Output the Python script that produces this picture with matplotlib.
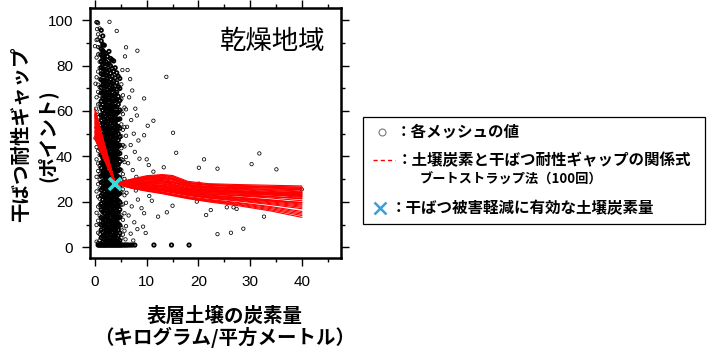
import numpy as np
import matplotlib.pyplot as plt
from matplotlib.patches import Rectangle
from matplotlib.lines import Line2D
from matplotlib.ticker import MultipleLocator

plt.rcParams['font.family'] = ['Liberation Sans', 'Noto Sans CJK JP', 'DejaVu Sans']
JP = ['Noto Sans CJK JP', 'DejaVu Sans']

# dense cloud of mesh values, one column of y per x position
core_x = [0.3, 0.6, 0.9, 1.2, 1.5, 1.8, 2.1, 2.4, 2.7, 3.0,
          3.3, 3.6, 3.9, 4.2, 4.5, 4.8, 5.1, 5.4, 5.7, 6.0]
core_y = [
    [2.5, 9.8, 15.2, 24.6, 31.0, 38.7, 44.1, 52.9, 58.3, 66.0, 74.8, 83.5, 91.2, 99.0],
    [1.9, 6.4, 11.7, 17.9, 22.3, 27.8, 33.6, 36.9, 42.5, 47.1, 53.8, 57.2, 62.9, 68.4,
     71.6, 77.3, 84.9, 88.1, 93.7, 98.6],
    [3.1, 5.8, 10.2, 13.9, 18.6, 21.4, 25.9, 29.7, 32.1, 35.8, 40.6, 43.3, 46.8, 51.5,
     55.0, 59.7, 63.2, 66.8, 70.5, 74.1, 78.9, 81.6, 85.2, 87.9, 92.4, 96.3],
    [1.4, 4.2, 7.7, 9.9, 13.1, 16.5, 19.2, 22.8, 25.3, 28.6, 31.4, 34.9, 37.2, 40.8,
     43.5, 46.2, 49.7, 52.3, 55.8, 58.1, 61.6, 64.3, 67.9, 70.2, 73.7, 76.4, 79.1,
     81.8, 84.6, 87.3, 90.8, 95.5],
    [2.2, 4.9, 6.8, 10.6, 12.4, 15.7, 18.1, 20.9, 23.6, 26.2, 28.1, 31.9, 33.5, 36.7,
     39.4, 41.2, 44.8, 47.3, 49.1, 52.7, 54.4, 57.9, 60.3, 62.8, 65.5, 68.1, 71.4,
     73.2, 75.9, 78.6, 80.4, 82.7, 84.1, 86.6, 89.2, 93.0],
    [1.1, 3.6, 5.4, 8.3, 10.1, 12.9, 15.0, 17.4, 19.8, 22.1, 24.7, 26.9, 29.5, 31.2,
     33.8, 35.9, 38.3, 40.1, 42.9, 45.5, 47.8, 50.2, 52.0, 54.9, 56.3, 59.1, 61.4,
     63.9, 66.2, 68.8, 71.0, 73.5, 76.1, 78.2, 81.0, 83.3, 85.7, 88.9],
    [2.0, 3.9, 6.2, 7.6, 9.5, 11.8, 13.4, 15.9, 17.6, 19.3, 21.7, 23.2, 25.6, 27.4,
     29.1, 31.5, 33.0, 35.3, 37.8, 39.5, 41.6, 43.9, 45.2, 47.6, 49.8, 51.3, 53.7,
     55.5, 57.4, 59.9, 61.8, 64.1, 66.5, 68.2, 70.8, 73.1, 75.6, 78.4, 81.7, 85.3],
    [1.3, 2.8, 5.1, 7.2, 8.9, 11.1, 12.6, 14.7, 16.3, 18.5, 20.4, 22.6, 24.1, 26.5,
     28.3, 30.2, 32.4, 34.1, 36.2, 38.0, 40.3, 42.2, 44.0, 46.4, 48.1, 50.6, 52.4,
     54.2, 56.7, 58.5, 60.9, 62.6, 65.0, 67.3, 69.5, 72.0, 74.4, 77.2, 80.5, 84.0],
    [2.6, 4.4, 6.6, 8.0, 10.3, 12.0, 14.2, 15.6, 17.8, 19.6, 21.2, 23.9, 25.0, 27.1,
     29.8, 31.7, 33.3, 35.6, 37.4, 39.2, 41.0, 43.4, 45.8, 47.0, 49.5, 51.8, 53.1,
     55.3, 57.8, 59.4, 61.2, 63.5, 65.7, 68.0, 70.3, 72.6, 75.1, 77.9, 80.8, 86.2],
    [1.7, 3.3, 5.7, 7.4, 9.2, 11.4, 13.0, 15.3, 16.9, 18.9, 20.7, 22.4, 24.4, 26.6,
     28.5, 30.4, 32.0, 34.4, 36.1, 38.4, 40.5, 42.0, 44.5, 46.6, 48.7, 50.1, 52.2,
     54.6, 56.1, 58.8, 60.6, 62.4, 64.7, 66.9, 69.1, 71.5, 74.0, 76.6, 79.8, 83.1],
    [2.3, 4.0, 6.4, 8.4, 10.0, 12.3, 14.4, 16.0, 18.2, 20.0, 22.0, 23.8, 25.9, 27.9,
     29.6, 31.8, 33.6, 35.4, 37.6, 39.8, 41.4, 43.6, 45.4, 47.5, 49.6, 51.6, 53.4,
     55.9, 57.6, 60.0, 62.1, 64.4, 66.8, 69.4, 72.2, 75.3, 78.7, 82.5],
    [1.5, 3.4, 5.3, 7.8, 9.6, 11.6, 13.6, 15.5, 17.2, 19.4, 21.3, 23.4, 25.4, 27.6,
     29.4, 31.3, 33.4, 35.7, 37.9, 39.9, 41.9, 44.2, 46.0, 48.3, 50.4, 52.6, 54.8,
     57.0, 59.3, 61.7, 64.2, 66.6, 69.8, 73.0, 77.4, 82.0],
    [2.9, 4.7, 6.9, 9.0, 11.2, 13.2, 15.1, 17.3, 19.1, 21.0, 23.1, 25.2, 27.2, 29.3,
     31.1, 33.2, 35.1, 37.3, 39.6, 41.5, 43.7, 45.9, 48.0, 50.3, 52.5, 54.7, 57.3,
     59.6, 62.0, 64.8, 67.6, 70.9, 74.6, 79.0],
    [1.8, 4.1, 6.5, 8.7, 11.0, 13.5, 15.8, 18.0, 20.3, 22.5, 24.9, 27.0, 29.4, 31.6,
     34.0, 36.3, 38.6, 41.1, 43.5, 45.7, 48.2, 50.9, 53.5, 56.0, 58.9, 61.8, 64.9,
     68.3, 72.4, 76.8],
    [2.4, 5.0, 7.6, 10.4, 12.8, 15.4, 18.3, 20.6, 23.3, 26.0, 28.4, 31.0, 33.7, 36.4,
     39.0, 41.8, 44.6, 47.2, 50.0, 53.1, 56.3, 59.5, 62.9, 66.4, 70.6, 75.2],
    [3.0, 6.3, 9.7, 13.3, 16.6, 19.9, 23.7, 27.0, 30.6, 34.2, 37.7, 41.3, 44.9, 48.6,
     52.4, 56.5, 60.4, 64.6, 69.9, 74.3],
    [4.1, 8.8, 14.0, 18.7, 24.2, 29.0, 33.9, 38.8, 43.6, 48.9, 54.1, 59.8, 65.3, 71.7],
    [5.6, 12.1, 18.9, 25.5, 32.2, 38.4, 45.0, 51.7, 58.6, 66.9],
    [7.3, 15.0, 22.9, 30.1, 37.5, 44.4, 52.8, 61.5],
    [9.3, 19.6, 28.9, 39.7, 49.1, 60.7],
]

# scattered meshes around and away from the cloud
spread_x = [5.3, 5.8, 6.3, 6.8, 7.2, 6.6, 7.8, 8.1, 7.0, 6.2, 7.5, 8.4, 6.9, 7.7, 8.6,
            6.4, 7.3, 8.0, 6.7, 7.9, 6.1, 8.3, 7.1, 6.5, 7.6, 8.2, 6.9, 5.9, 7.4,
            0.1, 0.2, 0.1, 0.0, 0.3, 0.5, 2.8, 0.4, 4.2, 0.5, 6.0, 8.2,
            13.8, 9.5, 10.2, 11.3, 15.1, 15.7, 9.5, 10.0, 10.4, 13.3, 11.3,
            20.1, 21.1, 23.7, 30.3, 31.8, 35.1, 40.0, 20.1, 21.5, 22.4, 23.7, 26.3,
            28.7, 25.5, 26.8, 27.4, 32.7, 19.7, 15.0, 13.9, 12.2, 11.0, 10.5, 9.5,
            9.3, 9.8, 9.0, 7.6]
spread_y = [78, 84, 78, 74, 69, 66, 61, 58, 56, 53, 50, 47, 45, 42, 39,
            37, 34, 31, 29, 25, 24, 21, 18, 14, 11, 8, 6, 3.5, 3,
            48, 61, 72, 88.5, 99.1, 99.0, 99.2, 96, 95.2, 91.5, 88, 86.5,
            75, 65.5, 53.5, 55.7, 50.4, 41.6, 49.3, 38.7, 36.2, 35.2, 33.3,
            35, 38.7, 34.6, 36.6, 41.3, 34.3, 25.5, 28, 14.2, 16.4, 5.8, 6.4,
            8.2, 17.6, 17.6, 16.9, 13.5, 20.1, 18.3, 15.4, 13.5, 20.5, 22.6, 15.0,
            9.1, 6.3, 17.2, 26.7]

# meshes with a gap of about 1 point
floor_x = [0.6, 0.8, 1.0, 1.2, 1.4, 1.6, 1.8, 2.0, 2.2, 2.4, 2.6, 2.8, 3.0, 3.2,
           3.4, 3.6, 3.8, 4.0, 4.2, 4.4, 4.6, 4.8, 5.0, 5.2, 5.5, 5.8, 6.1, 6.4,
           6.8, 7.2, 7.7, 11.4, 14.8, 18.2]
floor_y = 1.0

# bootstrap curves (100 in the study, a subset here)
curve_x = [0.0, 3.9, 7, 10, 13, 15, 18, 22, 28, 34, 40]
curves = [
    [61.0, 28, 30.0, 31.5, 32.0, 31.6, 29.0, 28.0, 27.6, 27.3, 27.0],
    [60.0, 28, 29.8, 31.2, 31.8, 31.2, 28.6, 27.7, 27.2, 26.8, 26.5],
    [59.0, 28, 29.5, 30.8, 31.3, 30.5, 28.0, 27.2, 26.6, 26.0, 25.6],
    [58.2, 28, 29.2, 30.3, 30.7, 29.8, 27.4, 26.5, 25.6, 25.0, 24.4],
    [57.5, 28, 29.0, 29.8, 30.0, 29.0, 27.0, 26.0, 25.0, 24.0, 23.2],
    [56.8, 28, 28.7, 29.3, 29.4, 28.4, 26.6, 25.4, 24.7, 24.2, 24.0],
    [56.0, 28, 28.5, 29.0, 28.9, 27.9, 26.2, 25.2, 24.4, 23.6, 22.8],
    [55.3, 28, 28.3, 28.6, 28.3, 27.4, 25.8, 24.8, 23.9, 23.0, 22.0],
    [54.6, 28, 28.0, 28.1, 27.8, 27.0, 25.5, 24.6, 24.0, 23.8, 23.6],
    [54.0, 28, 27.8, 27.8, 27.4, 26.6, 25.1, 24.1, 23.3, 22.4, 21.3],
    [53.3, 28, 27.6, 27.4, 26.9, 26.1, 24.8, 23.9, 23.4, 23.0, 22.6],
    [52.7, 28, 27.4, 27.0, 26.5, 25.7, 24.4, 23.4, 22.6, 21.7, 20.5],
    [52.0, 28, 27.2, 26.7, 26.1, 25.3, 24.0, 23.0, 22.0, 20.9, 19.6],
    [51.4, 28, 27.0, 26.3, 25.6, 24.8, 23.6, 22.6, 21.6, 20.4, 19.0],
    [50.8, 28, 26.8, 26.0, 25.2, 24.4, 23.2, 22.1, 20.9, 19.6, 18.1],
    [50.2, 28, 26.6, 25.6, 24.8, 24.0, 22.8, 21.6, 20.3, 18.8, 17.0],
    [49.6, 28, 26.4, 25.3, 24.4, 23.5, 22.3, 21.1, 19.6, 17.9, 15.8],
    [49.0, 28, 26.2, 25.0, 24.0, 23.1, 21.8, 20.5, 18.9, 17.0, 14.6],
    [48.4, 28, 26.0, 24.7, 23.6, 22.7, 21.4, 20.0, 18.2, 16.0, 13.2],
    [47.8, 28, 27.9, 28.4, 28.8, 28.4, 27.0, 26.3, 25.8, 25.6, 25.4],
    [57.0, 28, 28.9, 30.0, 30.6, 30.2, 28.2, 27.5, 27.0, 26.7, 26.4],
    [55.0, 28, 27.3, 27.2, 27.0, 26.4, 25.4, 24.8, 24.5, 24.3, 24.1],
    [51.0, 28, 26.9, 26.4, 26.0, 25.4, 24.3, 23.4, 22.8, 22.2, 21.6],
    [48.0, 28, 26.5, 25.8, 25.1, 24.3, 23.0, 22.0, 21.2, 20.5, 19.8],
    [60.5, 28, 29.6, 31.0, 31.6, 30.9, 28.3, 27.4, 26.9, 26.4, 26.0],
    [59.5, 28, 29.3, 30.5, 31.0, 30.0, 27.7, 26.8, 26.0, 25.3, 24.8],
    [58.6, 28, 28.8, 29.6, 29.8, 28.8, 26.8, 25.7, 24.6, 23.5, 22.5],
    [57.8, 28, 28.4, 28.9, 28.7, 27.7, 26.0, 25.0, 24.2, 23.3, 22.4],
    [56.4, 28, 28.1, 28.3, 28.0, 27.2, 25.7, 24.9, 24.3, 23.9, 23.4],
    [55.6, 28, 27.7, 27.6, 27.2, 26.4, 25.0, 24.3, 23.8, 23.5, 23.2],
    [54.2, 28, 27.5, 27.2, 26.7, 25.9, 24.6, 23.6, 22.9, 22.2, 21.5],
    [53.0, 28, 27.1, 26.5, 25.9, 25.1, 23.8, 22.8, 21.8, 20.7, 19.5],
    [52.3, 28, 26.9, 26.2, 25.4, 24.6, 23.4, 22.3, 21.2, 20.0, 18.6],
    [50.5, 28, 26.7, 25.8, 25.0, 24.2, 23.0, 21.8, 20.6, 19.2, 17.6],
    [49.3, 28, 26.3, 25.2, 24.2, 23.3, 22.0, 20.8, 19.3, 17.5, 15.2],
    [48.7, 28, 26.1, 24.9, 23.8, 22.9, 21.6, 20.3, 18.6, 16.5, 14.0],
    [47.5, 28, 28.2, 28.9, 29.2, 28.6, 27.0, 26.6, 26.3, 26.1, 25.9],
    [57.3, 28, 29.1, 30.1, 30.3, 29.5, 27.2, 26.2, 25.3, 24.6, 23.9],
]

# threshold (soil carbon effective against drought damage)
best_x = 3.9
best_y = 28.0

W, H = 707, 351
fig = plt.figure(figsize=(W / 100, H / 100), dpi=100)
ax = fig.add_axes([90 / W, 1 - 258 / H, 251 / W, 250 / H])

# thick packed part of the cloud vs. thin rim
inner = [(x, ys) for x, ys in zip(core_x, core_y) if 1.0 <= x <= 4.8]
outer = [(x, ys) for x, ys in zip(core_x, core_y) if not 1.0 <= x <= 4.8]

in_x = np.concatenate([np.full(len(ys), x) for x, ys in inner] + [np.array(floor_x)])
in_y = np.concatenate([np.array(ys) for x, ys in inner] + [np.full(len(floor_x), floor_y)])
out_x = np.concatenate([np.full(len(ys), x) for x, ys in outer] + [np.array(spread_x)])
out_y = np.concatenate([np.array(ys) for x, ys in outer] + [np.array(spread_y)])

ax.scatter(in_x, in_y, s=6, facecolors='none', edgecolors='black', linewidths=1.3, zorder=2)
ax.scatter(out_x, out_y, s=6, facecolors='none', edgecolors='black', linewidths=0.55, zorder=2)

for c in curves:
    ax.plot(curve_x, c, color='red', lw=0.8, zorder=3)

ax.plot([best_x], [best_y], marker='x', color='#38dcdc', ms=8, mew=2.6, zorder=4)

ax.set_xlim(-0.97, 47.6)
ax.set_ylim(-4.7, 105.3)
ax.set_xticks([0, 10, 20, 30, 40])
ax.set_yticks([0, 20, 40, 60, 80, 100])
ax.xaxis.set_minor_locator(MultipleLocator(5))
ax.yaxis.set_minor_locator(MultipleLocator(10))
ax.tick_params(which='both', direction='out', top=True, right=True, width=1.0,
               labelsize=11)
ax.tick_params(which='major', length=5.5, pad=6.8)
ax.tick_params(which='minor', length=2.8)
for s in ax.spines.values():
    s.set_linewidth(1.8)

ax.text(0.727, 0.865, '乾燥地域', transform=ax.transAxes, ha='center', va='center',
        fontsize=19, family=JP)

fig.text(22 / W, 1 - 134 / H, '干ばつ耐性ギャップ', rotation=90, ha='center', va='center',
         fontsize=14, fontweight='bold', family=JP)
fig.text(47 / W, 1 - 136 / H, '(ポイント)', rotation=90, ha='center', va='center',
         fontsize=14, fontweight='bold', family=JP)
fig.text(225 / W, 1 - 316 / H, '表層土壌の炭素量', ha='center', va='center',
         fontsize=14, fontweight='bold', family=JP)
fig.text(225 / W, 1 - 337 / H, '（キログラム/平方メートル）', ha='center', va='center',
         fontsize=14, fontweight='bold', family=JP)

# legend box
fig.patches.append(Rectangle((363 / W, 1 - 224 / H), 342 / W, 107 / H, fill=False,
                             edgecolor='black', lw=0.9, transform=fig.transFigure))
fig.add_artist(Line2D([382 / W], [1 - 132 / H], marker='o', ms=5, mfc='none',
                      mec='#777777', mew=0.8, transform=fig.transFigure))
fig.text(396 / W, 1 - 132 / H, '：各メッシュの値', ha='left', va='center',
         fontsize=11.2, fontweight='bold', family=JP)
fig.add_artist(Line2D([373 / W, 395 / W], [1 - 160 / H, 1 - 160 / H], color='red',
                      lw=1.0, dashes=(3, 2.2), transform=fig.transFigure))
fig.text(397 / W, 1 - 160 / H, '：土壌炭素と干ばつ耐性ギャップの関係式', ha='left',
         va='center', fontsize=11.2, fontweight='bold', family=JP)
fig.text(420 / W, 1 - 180 / H, 'ブートストラップ法（100回）', ha='left', va='center',
         fontsize=9.5, fontweight='bold', family=JP)
fig.add_artist(Line2D([380 / W], [1 - 208 / H], marker='x', ms=8, mec='#3a9fd8',
                      mew=1.8, transform=fig.transFigure))
fig.text(391 / W, 1 - 208 / H, '：干ばつ被害軽減に有効な土壌炭素量', ha='left',
         va='center', fontsize=11.2, fontweight='bold', family=JP)

fig.savefig('out.png', dpi=100)
